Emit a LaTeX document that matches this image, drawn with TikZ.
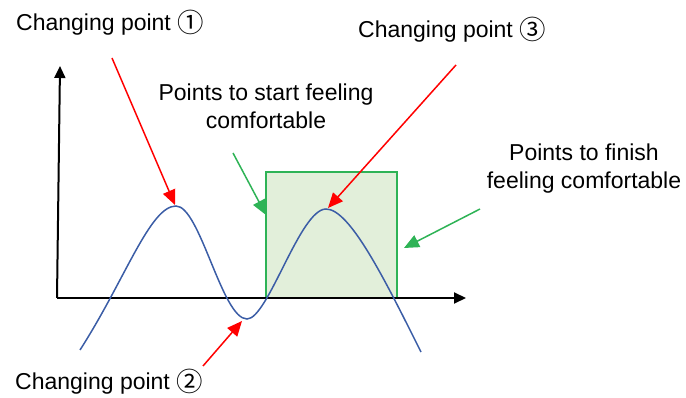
\documentclass[tikz,border=0pt]{standalone}
\usepackage{fontspec}
\setmainfont{Liberation Sans}
\newfontfamily\symfont{Noto Sans CJK JP}
\usetikzlibrary{arrows.meta}
\definecolor{curveblue}{HTML}{3B5DA6}
\definecolor{arrred}{HTML}{FF0000}
\definecolor{arrgreen}{HTML}{2EB356}
\definecolor{boxfill}{HTML}{E2EFDA}
\newcommand{\circnum}[1]{\raisebox{-2pt}{\scalebox{1.15}{\symfont #1}}}
\begin{document}
\begin{tikzpicture}[x=1pt,y=-1pt,
  lbl/.style={font=\fontsize{23}{28}\selectfont, align=center, inner sep=0pt},
  redarrow/.style={draw=arrred, line width=1.5pt, -{Triangle[length=15pt,width=13pt]}},
  greenarrow/.style={draw=arrgreen, line width=1.5pt, -{Triangle[length=15pt,width=13pt]}},
  axis/.style={draw=black, line width=2pt, -{Triangle[length=12pt,width=11pt]}}]
\useasboundingbox (0,0) rectangle (686,398);
% comfort box
\draw[draw=arrgreen, fill=boxfill, line width=1.5pt] (266,172) rectangle (397,298);
% axes
\coordinate (o) at (57,298);
\coordinate (ytip) at (60,66);
\coordinate (xtip) at (466,298);
\draw[axis] (o) -- (xtip);
\draw[axis] (o) -- (ytip);
% curve
\draw[curveblue, line width=1.5pt]
 (80,350) .. controls (125,280) and (150,206) .. (176,206)
 .. controls (200,206) and (222,319) .. (247,319)
 .. controls (268,319) and (300,209) .. (326,209)
 .. controls (350,209) and (385,280) .. (421,352);
% labels
\node[lbl, anchor=base west] (c1) at (16,31) {Changing point \circnum{①}};
\node[lbl, anchor=base west] (c3) at (358,38) {Changing point \circnum{③}};
\node[lbl, anchor=base west] (c2) at (15,389) {Changing point \circnum{②}};
\node[lbl] (start) at (266,106) {Points to start feeling\\comfortable};
\node[lbl] (finish) at (584,169) {Points to finish\\feeling comfortable};
% arrow coordinates
\coordinate (a1s) at (112,58);  \coordinate (a1e) at (175,205);
\coordinate (a2s) at (203,366); \coordinate (a2e) at (242,321);
\coordinate (a3s) at (456,65);  \coordinate (a3e) at (328,208);
\coordinate (g1s) at (233,153); \coordinate (g1e) at (266,215);
\coordinate (g2s) at (480,209); \coordinate (g2e) at (404,248);
\draw[redarrow] (a1s) -- (a1e);
\draw[redarrow] (a2s) -- (a2e);
\draw[redarrow] (a3s) -- (a3e);
\draw[greenarrow] (g1s) -- (g1e);
\draw[greenarrow] (g2s) -- (g2e);
\end{tikzpicture}
\end{document}
